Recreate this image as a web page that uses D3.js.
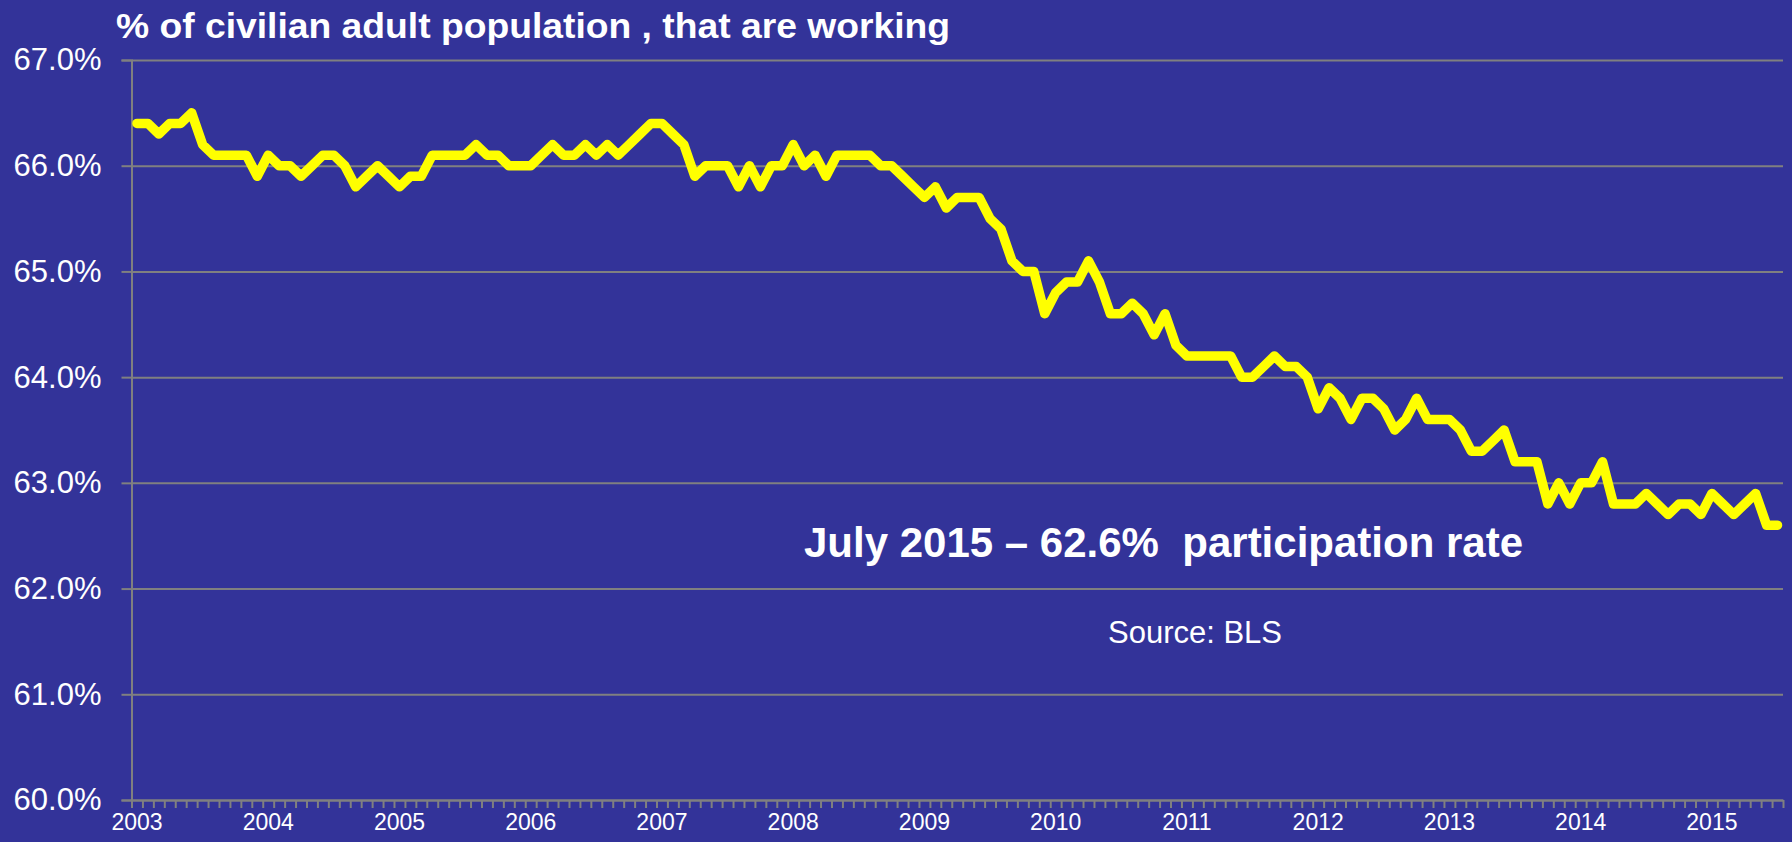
<!DOCTYPE html>
<html>
<head>
<meta charset="utf-8">
<title>Civilian participation rate</title>
<script src="https://cdn.jsdelivr.net/npm/d3@7"></script>
<style>
  html, body { margin: 0; padding: 0; background: #333399; }
  svg { display: block; font-family: "Liberation Sans", Arial, sans-serif; }
  .grid line { stroke: #808080; stroke-width: 2; }
  .grid path { display: none; }
  .axis path, .axis line { stroke: #808080; stroke-width: 2; }
  .axis text { fill: #fff; }
</style>
</head>
<body>
<div id="chart"></div>
<script>
  // monthly rate (%), Jan..Dec
  var years = ['2003', '2004', '2005', '2006', '2007', '2008', '2009', '2010', '2011', '2012', '2013', '2014', '2015'];
  var rate2003 = [66.4, 66.4, 66.3, 66.4, 66.4, 66.5, 66.2, 66.1, 66.1, 66.1, 66.1, 65.9];
  var rate2004 = [66.1, 66.0, 66.0, 65.9, 66.0, 66.1, 66.1, 66.0, 65.8, 65.9, 66.0, 65.9];
  var rate2005 = [65.8, 65.9, 65.9, 66.1, 66.1, 66.1, 66.1, 66.2, 66.1, 66.1, 66.0, 66.0];
  var rate2006 = [66.0, 66.1, 66.2, 66.1, 66.1, 66.2, 66.1, 66.2, 66.1, 66.2, 66.3, 66.4];
  var rate2007 = [66.4, 66.3, 66.2, 65.9, 66.0, 66.0, 66.0, 65.8, 66.0, 65.8, 66.0, 66.0];
  var rate2008 = [66.2, 66.0, 66.1, 65.9, 66.1, 66.1, 66.1, 66.1, 66.0, 66.0, 65.9, 65.8];
  var rate2009 = [65.7, 65.8, 65.6, 65.7, 65.7, 65.7, 65.5, 65.4, 65.1, 65.0, 65.0, 64.6];
  var rate2010 = [64.8, 64.9, 64.9, 65.1, 64.9, 64.6, 64.6, 64.7, 64.6, 64.4, 64.6, 64.3];
  var rate2011 = [64.2, 64.2, 64.2, 64.2, 64.2, 64.0, 64.0, 64.1, 64.2, 64.1, 64.1, 64.0];
  var rate2012 = [63.7, 63.9, 63.8, 63.6, 63.8, 63.8, 63.7, 63.5, 63.6, 63.8, 63.6, 63.6];
  var rate2013 = [63.6, 63.5, 63.3, 63.3, 63.4, 63.5, 63.2, 63.2, 63.2, 62.8, 63.0, 62.8];
  var rate2014 = [63.0, 63.0, 63.2, 62.8, 62.8, 62.8, 62.9, 62.8, 62.7, 62.8, 62.8, 62.7];
  var rate2015 = [62.9, 62.8, 62.7, 62.8, 62.9, 62.6, 62.6];

  var yTicks = [60, 61, 62, 63, 64, 65, 66, 67];

  var title = '% of civilian adult population , that are working';
  var note = 'July 2015 \u2013 62.6%  participation rate';
  var source = 'Source: BLS';

  (function () {
    'use strict';

    var W = 1792, H = 842;
    var mLeft = 131.5, mRight = 1783, mTop = 60, mBottom = 800;

    var byYear = [rate2003, rate2004, rate2005, rate2006, rate2007, rate2008, rate2009,
      rate2010, rate2011, rate2012, rate2013, rate2014, rate2015];

    var data = [];
    byYear.forEach(function (arr, yi) {
      arr.forEach(function (v, m) {
        data.push({ key: years[yi] + '-' + (m + 1), year: years[yi], month: m, value: v });
      });
    });

    var svg = d3.select('#chart').append('svg')
      .attr('width', W)
      .attr('height', H);

    svg.append('rect')
      .attr('width', W)
      .attr('height', H)
      .attr('fill', '#333399');

    var x = d3.scaleBand()
      .domain(data.map(function (d) { return d.key; }))
      .range([mLeft, mRight])
      .padding(0);

    // category boundaries, for the small ticks under the axis
    var xEdge = d3.scaleLinear()
      .domain([0, data.length])
      .range([mLeft, mRight]);

    var y = d3.scaleLinear()
      .domain([60, 67])
      .range([mBottom, mTop]);

    /* grid */
    svg.append('g')
      .attr('class', 'grid')
      .attr('transform', 'translate(' + mLeft + ',0)')
      .call(d3.axisLeft(y).tickValues(yTicks).tickSize(-(mRight - mLeft)).tickFormat(''));

    /* y axis */
    var yAxis = svg.append('g')
      .attr('class', 'axis')
      .attr('transform', 'translate(' + mLeft + ',0)')
      .call(d3.axisLeft(y)
        .tickValues(yTicks)
        .tickSize(10)
        .tickPadding(20)
        .tickFormat(function (d) { return d.toFixed(1) + '%'; }));
    yAxis.selectAll('text')
      .style('font-size', '31px');

    /* x axis: month ticks between categories */
    svg.append('g')
      .attr('class', 'axis')
      .attr('transform', 'translate(0,' + mBottom + ')')
      .call(d3.axisBottom(xEdge)
        .tickValues(d3.range(0, data.length + 1))
        .tickSize(8)
        .tickSizeOuter(0)
        .tickFormat(''));

    var janKeys = data.filter(function (d) { return d.month === 0; }).map(function (d) { return d.key; });
    var xLabels = svg.append('g')
      .attr('class', 'axis')
      .attr('transform', 'translate(0,' + mBottom + ')')
      .call(d3.axisBottom(x)
        .tickValues(janKeys)
        .tickSize(0)
        .tickPadding(14)
        .tickFormat(function (k) { return k.split('-')[0]; }));
    xLabels.select('.domain').remove();
    xLabels.selectAll('text')
      .style('font-size', '23px');

    /* the series */
    var line = d3.line()
      .x(function (d) { return x(d.key) + x.bandwidth() / 2; })
      .y(function (d) { return y(d.value); });

    svg.append('path')
      .datum(data)
      .attr('d', line)
      .attr('fill', 'none')
      .attr('stroke', '#ffff00')
      .attr('stroke-width', 9.5)
      .attr('stroke-linejoin', 'round')
      .attr('stroke-linecap', 'round');

    /* texts */
    svg.append('text')
      .attr('x', 116)
      .attr('y', 38)
      .attr('fill', '#fff')
      .attr('textLength', 834)
      .attr('lengthAdjust', 'spacingAndGlyphs')
      .style('font-size', '35px')
      .style('font-weight', 'bold')
      .text(title);

    svg.append('text')
      .attr('x', 804)
      .attr('y', 557)
      .attr('fill', '#fff')
      .style('font-size', '42px')
      .style('font-weight', 'bold')
      .style('white-space', 'pre')
      .text(note);

    svg.append('text')
      .attr('x', 1108)
      .attr('y', 643)
      .attr('fill', '#fff')
      .style('font-size', '31px')
      .text(source);
  }());
</script>
</body>
</html>
